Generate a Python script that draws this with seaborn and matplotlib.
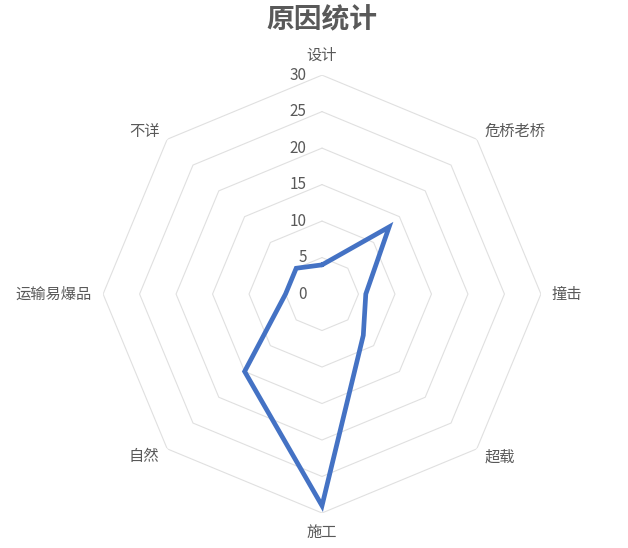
import numpy as np
import pandas as pd
import matplotlib
matplotlib.use("Agg")
import matplotlib.pyplot as plt
import seaborn as sns

categories = ["设计", "危桥老桥", "撞击", "超载", "施工", "自然", "运输易爆品", "不详"]
counts = [4, 13, 6, 8, 29, 15, 5, 5]
ring_values = [5, 10, 15, 20, 25, 30]
tick_values = [0, 5, 10, 15, 20, 25, 30]

TEXT_COLOR = "#595959"
GRID_COLOR = "#e0e0e0"
LINE_COLOR = "#4472C4"

sns.set_style("white")
plt.rcParams["font.family"] = ["Noto Sans CJK SC", "DejaVu Sans"]

n = len(categories)
angles = np.arange(n) * 2 * np.pi / n
closed_angles = np.append(angles, 2 * np.pi)

df = pd.DataFrame({
    "theta": closed_angles,
    "count": counts + counts[:1],
})

fig = plt.figure(figsize=(6.28, 5.48), dpi=100)
ax = fig.add_axes([0.164, 0.0639, 0.6975, 0.799], projection="polar")
ax.set_theta_zero_location("N")
ax.set_theta_direction(-1)
ax.set_ylim(0, 30)
ax.grid(False)
ax.spines["polar"].set_visible(False)
ax.set_xticks([])
ax.set_yticks([])

# polygon gridlines
for rv in ring_values:
    ax.plot(closed_angles, [rv] * (n + 1), color=GRID_COLOR, lw=0.8, zorder=1)

# data line
sns.lineplot(data=df, x="theta", y="count", sort=False, estimator=None, ax=ax,
             color=LINE_COLOR, lw=3.4, solid_joinstyle="miter", zorder=3)
ax.set_xlabel("")
ax.set_ylabel("")

# radial tick labels, to the left of the top axis
for tv in tick_values:
    ax.annotate(str(tv), xy=(0, tv), xytext=(-11, 0), textcoords="offset points",
                ha="right", va="center", fontsize=11, color=TEXT_COLOR)

# category labels
for ang, cat in zip(angles, categories):
    s = np.sin(ang)
    c = np.cos(ang)
    if abs(s) < 1e-6:
        ha = "center"
    elif s > 0:
        ha = "left"
    else:
        ha = "right"
    if abs(s) < 1e-6 and c > 0:
        va = "bottom"
    elif abs(s) < 1e-6 and c < 0:
        va = "top"
    else:
        va = "center"
    ax.text(ang, 31.5, cat, ha=ha, va=va, fontsize=11, color=TEXT_COLOR)

fig.text(0.513, 0.963, "原因统计", ha="center", va="center",
         fontsize=20, fontweight="bold", color=TEXT_COLOR)

fig.savefig("out.png", dpi=100, facecolor="white")
